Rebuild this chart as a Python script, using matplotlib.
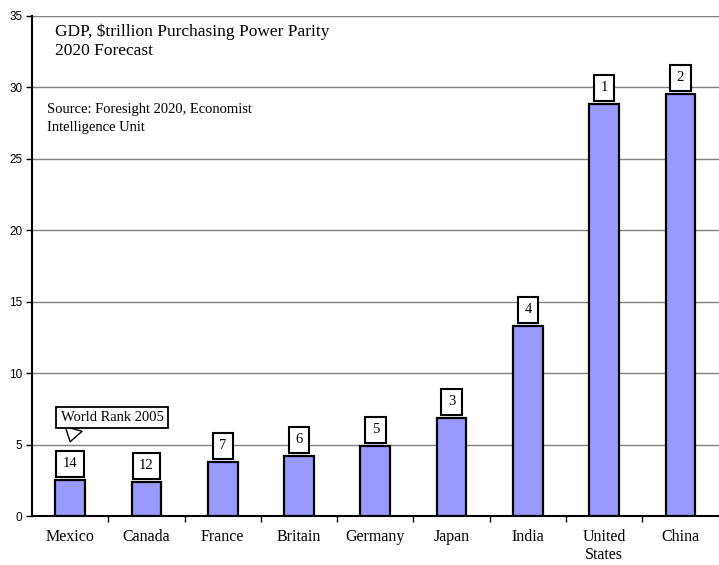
import matplotlib.pyplot as plt

plt.rcParams.update({
    "font.family": "Liberation Serif",
})

countries = ["Mexico", "Canada", "France", "Britain", "Germany",
             "Japan", "India", "United\nStates", "China"]
gdp_2020 = [2.52, 2.38, 3.78, 4.2, 4.9, 6.86, 13.3, 28.83, 29.53]
rank_2005 = ["14", "12", "7", "6", "5", "3", "4", "1", "2"]
y_ticks = [0, 5, 10, 15, 20, 25, 30, 35]

fig = plt.figure(figsize=(7.19, 5.65), dpi=100)
ax = fig.add_axes([0.0445, 0.0867, 0.955, 0.885])

x = list(range(len(countries)))
bars = ax.bar(x, gdp_2020, width=0.39, color="#9999FF",
              edgecolor="black", linewidth=1.6, zorder=3)

# rank boxes above bars
for xi, v, r in zip(x, gdp_2020, rank_2005):
    ax.annotate(r, (xi, v), xytext=(0, 7), textcoords="offset points",
                ha="center", va="bottom", fontsize=10.5, zorder=4,
                bbox=dict(boxstyle="square,pad=0.45", fc="white",
                          ec="black", lw=1.5))

# callout pointer drawn first, then the box on top of its base
ax.annotate("World Rank 2005", xy=(0, 5.2), xytext=(0.55, 6.9),
            ha="center", va="center", fontsize=10.5, zorder=5,
            bbox=dict(boxstyle="square,pad=0.3", fc="white", ec="black", lw=1.3),
            arrowprops=dict(arrowstyle="wedge,tail_width=1.2", fc="white",
                            ec="black", lw=1.0, shrinkA=0, shrinkB=0,
                            relpos=(0.14, 0.0)))

ax.set_xlim(-0.5, len(countries) - 0.5)
ax.set_ylim(0, 35)
ax.set_yticks(y_ticks)
ax.set_yticklabels([str(t) for t in y_ticks], family="Liberation Sans", fontsize=8.5)
ax.set_xticks([i + 0.5 for i in x[:-1]], minor=False)
ax.set_xticklabels([])
ax.set_xticks(x, minor=True)
ax.set_xticklabels(countries, minor=True, fontsize=11.5, linespacing=1.2)
ax.tick_params(axis="x", which="minor", length=0, pad=9)
ax.tick_params(axis="x", which="major", length=4, width=1, direction="out")
ax.tick_params(axis="y", length=4, width=1, direction="out", pad=3)

ax.yaxis.grid(True, color="#808080", linewidth=1)
ax.set_axisbelow(True)
for s in ["right", "top"]:
    ax.spines[s].set_visible(False)
ax.spines["left"].set_linewidth(1.5)
ax.spines["bottom"].set_linewidth(1.5)

ax.text(0.033, 0.985, "GDP, $trillion Purchasing Power Parity\n2020 Forecast",
        transform=ax.transAxes, ha="left", va="top", fontsize=12.5,
        linespacing=1.25)
ax.text(0.022, 0.825, "Source: Foresight 2020, Economist\nIntelligence Unit",
        transform=ax.transAxes, ha="left", va="top", fontsize=10.5,
        linespacing=1.5)

fig.savefig("out.png", dpi=100)
